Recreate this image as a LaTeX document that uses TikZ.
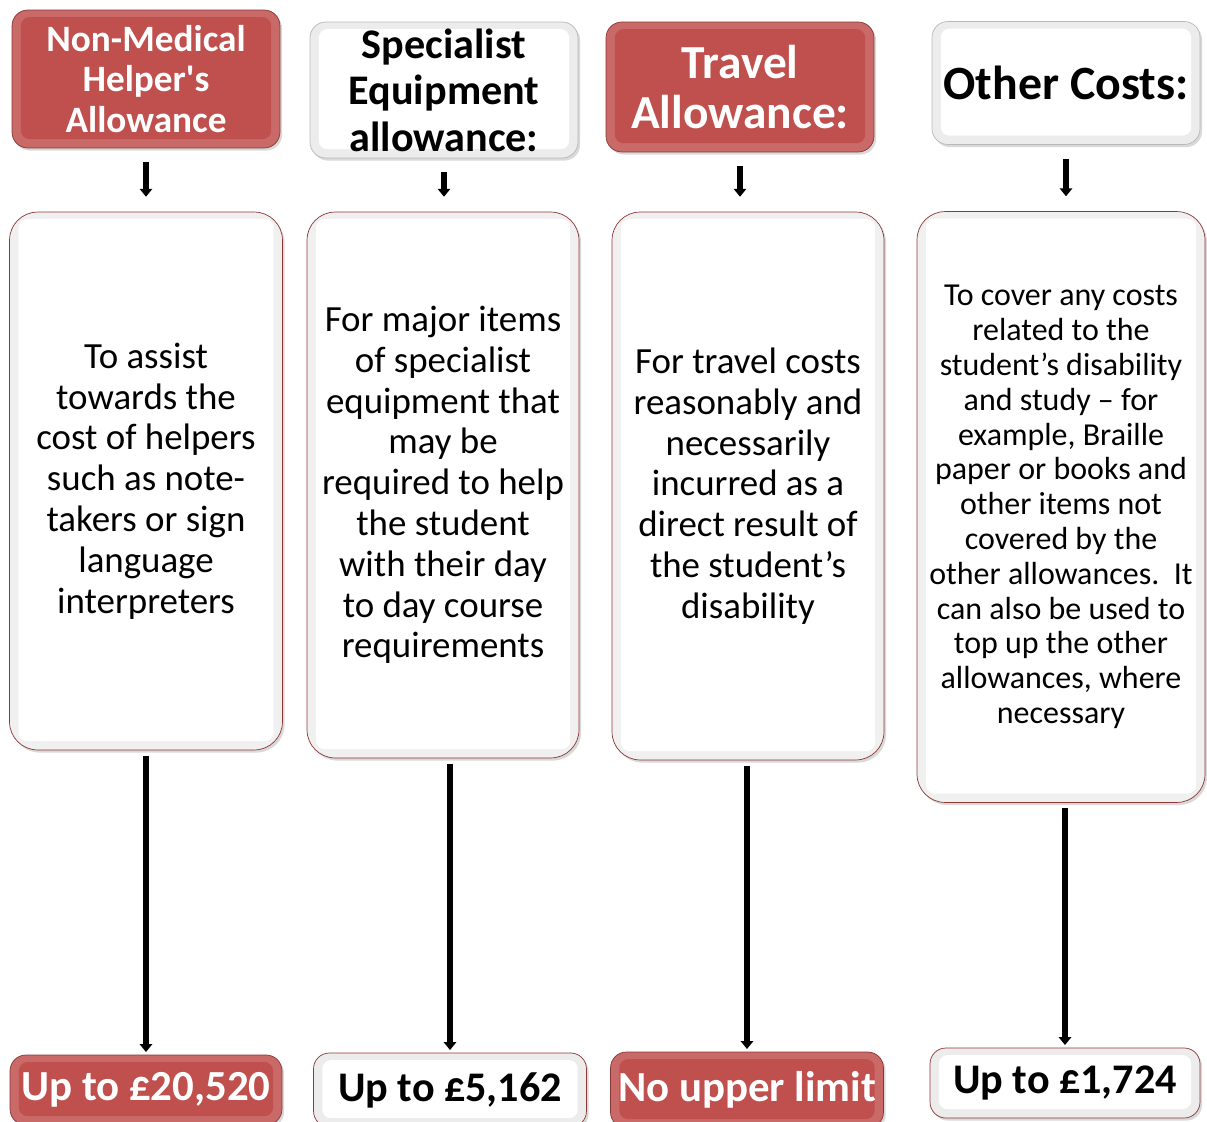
\documentclass[tikz,border=0pt]{standalone}
\usepackage{fontspec}
\setmainfont{Carlito}
\usetikzlibrary{arrows.meta,shadows}

\definecolor{allowred}{HTML}{C0504D}
\definecolor{edgered}{HTML}{8C3836}

\tikzset{
  panel/.style={rounded corners=9pt, align=center, inner sep=0pt,
    drop shadow={opacity=0.3,shadow xshift=1.2pt,shadow yshift=-1.5pt}},
  bevel/.style={path picture={
    \fill[#1,rounded corners=5pt]
      ([xshift=5pt,yshift=5pt]path picture bounding box.south west) rectangle
      ([xshift=-5pt,yshift=-4pt]path picture bounding box.north east);}},
  redpanel/.style={panel, fill=allowred!85!white, draw=allowred!70!black,
    bevel=allowred, text=white},
  whitepanel/.style={panel, fill=gray!15, draw=gray!55, bevel=white, text=black},
  bodypanel/.style={panel, fill=gray!12, draw=edgered, bevel=white,
    rounded corners=16pt, font=\fontsize{21pt}{23.2pt}\selectfont},
  flow/.style={line width=3.2pt, -{Triangle[length=4.5pt,width=7pt]}}
}

\begin{document}
\begin{tikzpicture}[x=0.02cm,y=-0.02cm]
  \useasboundingbox (0,0) rectangle (1207,1122);

  % Headers
  \node[redpanel, minimum width=5.36cm, minimum height=2.76cm,
        font=\bfseries\fontsize{21.2pt}{23pt}\selectfont] (h1) at (146,79)
        {Non-Medical\\Helper\textquotesingle s\\Allowance};
  \node[whitepanel, minimum width=5.36cm, minimum height=2.72cm,
        font=\bfseries\fontsize{24pt}{26.4pt}\selectfont] (h2) at (444,90)
        {Specialist\\Equipment\\allowance:};
  \node[redpanel, minimum width=5.36cm, minimum height=2.6cm,
        font=\bfseries\fontsize{27pt}{28.3pt}\selectfont] (h3) at (740,87)
        {Travel\\Allowance:};
  \node[whitepanel, minimum width=5.36cm, minimum height=2.46cm,
        font=\bfseries\fontsize{27.2pt}{28pt}\selectfont] (h4) at (1066,83)
        {Other Costs:};

  % Descriptions
  \node[bodypanel, minimum width=5.46cm, minimum height=10.76cm] (b1) at (146,481)
        {To assist\\towards the\\cost of helpers\\such as note-\\takers or sign\\language\\interpreters};
  \node[bodypanel, minimum width=5.44cm, minimum height=10.92cm] (b2) at (443,485)
        {For major items\\of specialist\\equipment that\\may be\\required to help\\the student\\with their day\\to day course\\requirements};
  \node[bodypanel, minimum width=5.44cm, minimum height=10.96cm] (b3) at (748,486)
        {For travel costs\\reasonably and\\necessarily\\incurred as a\\direct result of\\the student’s\\disability};
  \node[bodypanel, minimum width=5.76cm, minimum height=11.82cm,
        font=\fontsize{18.2pt}{19.8pt}\selectfont] (b4) at (1061,507)
        {To cover any costs\\related to the\\student’s disability\\and study -- for\\example, Braille\\paper or books and\\other items not\\covered by the\\other allowances.\ \ It\\can also be used to\\top up the other\\allowances, where\\necessary};

  % Amounts
  \node[redpanel, minimum width=5.44cm, minimum height=1.4cm,
        font=\bfseries\fontsize{24.4pt}{26pt}\selectfont] (v1) at (146,1090)
        {Up to £20,520};
  \node[whitepanel, draw=edgered, minimum width=5.46cm, minimum height=1.48cm,
        font=\bfseries\fontsize{24pt}{26pt}\selectfont] (v2) at (450,1090)
        {Up to £5,162};
  \node[redpanel, minimum width=5.46cm, minimum height=1.52cm,
        font=\bfseries\fontsize{24.4pt}{26pt}\selectfont] (v3) at (747,1090)
        {No upper limit};
  \node[whitepanel, draw=edgered, minimum width=5.4cm, minimum height=1.4cm,
        font=\bfseries\fontsize{24pt}{26pt}\selectfont] (v4) at (1065,1083)
        {Up to £1,724};

  % Arrows
  \foreach \i in {1,2,3,4} {
    \draw[flow, shorten <=8pt, shorten >=8.5pt] (h\i.south) -- (h\i.south |- b\i.north);
    \draw[flow, shorten <=3pt, shorten >=1.5pt] (v\i.north |- b\i.south) -- (v\i.north);
  }
\end{tikzpicture}
\end{document}
